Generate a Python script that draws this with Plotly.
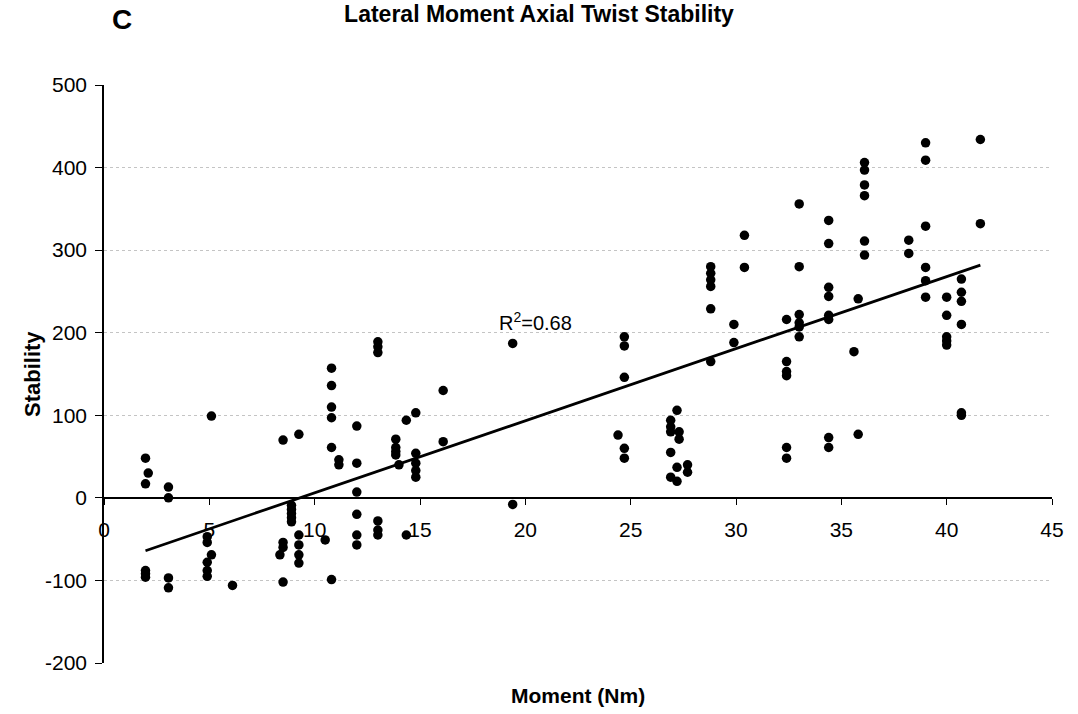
import numpy as np
import plotly.graph_objects as go

# ---- data ----
moment = [
    1.97, 2.1, 1.97, 1.97, 1.97, 1.97,
    3.06, 3.06, 3.06, 3.06,
    5.1, 5.1,
    4.9, 4.9, 4.9, 4.9, 4.9,
    6.1,
    8.5, 8.5, 8.5, 8.5, 8.35,
    8.9, 8.9, 8.9, 8.9, 8.9,
    9.25, 9.25, 9.25, 9.25, 9.25,
    10.5,
    10.8, 10.8, 10.8, 10.8, 10.8, 10.8,
    11.15, 11.15,
    12.0, 12.0, 12.0, 12.0, 12.0, 12.0,
    13.0, 13.0, 13.0, 13.0, 13.0, 13.0,
    13.85, 13.85, 13.85, 13.85, 14.0,
    14.35, 14.35,
    14.8, 14.8, 14.8, 14.8, 14.8,
    16.1, 16.1,
    19.4, 19.4,
    24.4,
    24.7, 24.7, 24.7, 24.7, 24.7,
    26.9, 26.9, 26.9, 26.9, 26.9,
    27.2, 27.2, 27.2,
    27.3, 27.3,
    27.7, 27.7,
    28.8, 28.8, 28.8, 28.8, 28.8, 28.8,
    29.9, 29.9,
    30.4, 30.4,
    32.4, 32.4, 32.4, 32.4, 32.4, 32.4,
    33.0, 33.0, 33.0, 33.0, 33.0, 33.0,
    34.4, 34.4, 34.4, 34.4, 34.4, 34.4, 34.4, 34.4,
    35.6,
    35.8, 35.8,
    36.1, 36.1, 36.1, 36.1, 36.1, 36.1,
    38.2, 38.2,
    39.0, 39.0, 39.0, 39.0, 39.0, 39.0,
    40.0, 40.0, 40.0, 40.0, 40.0,
    40.7, 40.7, 40.7, 40.7, 40.7, 40.7,
    41.6, 41.6,
]
stability = [
    48, 30, 17, -88, -92, -96,
    13, 0, -97, -109,
    99, -69,
    -47, -54, -78, -88, -95,
    -106,
    70, -54, -60, -102, -69,
    -9, -14, -19, -24, -29,
    77, -45, -57, -69, -79,
    -51,
    157, 136, 110, 97, 61, -99,
    46, 40,
    87, 42, 7, -20, -45, -57,
    189, 183, 176, -28, -39, -45,
    71, 61, 56, 52, 40,
    94, -45,
    103, 54, 42, 33, 25,
    130, 68,
    187, -8,
    76,
    195, 184, 146, 60, 48,
    94, 86, 80, 55, 25,
    106, 37, 20,
    80, 71,
    40, 31,
    280, 272, 264, 256, 229, 165,
    210, 188,
    318, 279,
    216, 165, 153, 148, 61, 48,
    356, 280, 222, 212, 207, 195,
    336, 308, 255, 244, 221, 216, 73, 61,
    177,
    241, 77,
    406, 397, 379, 366, 311, 294,
    312, 296,
    430, 409, 329, 279, 263, 243,
    243, 221, 195, 190, 185,
    265, 249, 238, 210, 103, 100,
    434, 332,
]

title_text = "Lateral Moment Axial Twist Stability"
panel_label = "C"
x_title = "Moment (Nm)"
y_title = "Stability"
r2_text = "R<sup>2</sup>=0.68"
x_ticks = [0, 5, 10, 15, 20, 25, 30, 35, 40, 45]
y_ticks = [-200, -100, 0, 100, 200, 300, 400, 500]

# ---- linear trend line computed from the data ----
xa = np.array(moment)
ya = np.array(stability)
slope, intercept = np.polyfit(xa, ya, 1)
x_fit = np.array([xa.min(), xa.max()])
y_fit = slope * x_fit + intercept

FONT = "Liberation Sans, Arial, sans-serif"

fig = go.Figure()
fig.add_trace(go.Scatter(
    x=moment, y=stability, mode="markers",
    marker=dict(color="black", size=9.5, line=dict(width=0)),
    showlegend=False, hoverinfo="skip",
))
fig.add_trace(go.Scatter(
    x=x_fit, y=y_fit, mode="lines",
    line=dict(color="black", width=2.8),
    showlegend=False, hoverinfo="skip",
))

fig.update_layout(
    width=1078, height=714,
    margin=dict(l=104, r=26, t=85, b=51),
    paper_bgcolor="white", plot_bgcolor="white",
    font=dict(family=FONT, color="black"),
    title=dict(text="<b>" + title_text + "</b>", x=0.5, xref="container",
               xanchor="center", y=1 - 14 / 714, yanchor="middle",
               font=dict(family=FONT, size=23, color="black")),
    xaxis=dict(
        range=[0, 45], tickvals=x_ticks, ticktext=[str(v) for v in x_ticks],
        showgrid=False, zeroline=False,
        showline=True, linecolor="black", linewidth=1.5,
        ticks="outside", ticklen=6, tickcolor="black", tickwidth=1,
        anchor="free", position=2 / 7,
        tickfont=dict(family=FONT, size=21, color="black"),
        ticklabelstandoff=7,
    ),
    yaxis=dict(
        range=[-200, 500], tickvals=y_ticks, ticktext=[str(v) for v in y_ticks],
        showgrid=True, gridcolor="#c4c4c4", griddash="dot", gridwidth=1,
        zeroline=False,
        showline=True, linecolor="black", linewidth=1.5,
        ticks="outside", ticklen=7, tickcolor="black", tickwidth=1,
        tickfont=dict(family=FONT, size=21, color="black"),
        ticklabelstandoff=4,
    ),
    annotations=[
        dict(text=r2_text, x=18.65, y=214, xref="x", yref="y",
             xanchor="left", yanchor="middle", showarrow=False,
             font=dict(family=FONT, size=20, color="black")),
        dict(text="<b>" + panel_label + "</b>", x=0, y=1, xref="paper", yref="paper",
             xanchor="center", yanchor="middle", xshift=18, yshift=85 - 19,
             showarrow=False, font=dict(family=FONT, size=28, color="black")),
        dict(text="<b>" + y_title + "</b>", x=0, y=0.5, xref="paper", yref="paper",
             xanchor="center", yanchor="middle", xshift=-72, textangle=-90,
             showarrow=False, font=dict(family=FONT, size=22, color="black")),
        dict(text="<b>" + x_title + "</b>", x=0.5, y=0, xref="paper", yref="paper",
             xanchor="center", yanchor="middle", yshift=-32,
             showarrow=False, font=dict(family=FONT, size=21, color="black")),
    ],
)

fig.write_html("out.html")
